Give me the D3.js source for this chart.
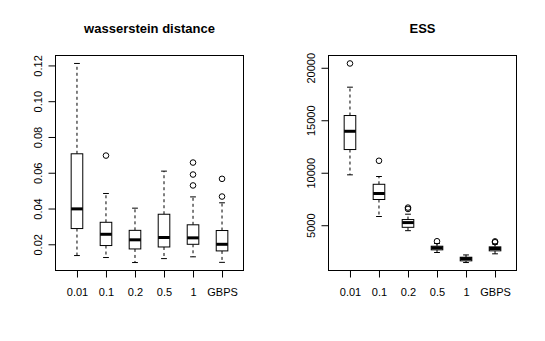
<!DOCTYPE html>
<html>
<head>
<meta charset="utf-8">
<script src="https://cdn.jsdelivr.net/npm/d3@7"></script>
<style>
  body { margin: 0; background: #fff; }
  svg { display: block; font-family: "Liberation Sans", Arial, Helvetica, sans-serif; }
</style>
</head>
<body>
<div id="chart"></div>
<script>
// categories shared by both panels
var categories = ["0.01", "0.1", "0.2", "0.5", "1", "GBPS"];

// wasserstein distance: whisker ends, quartiles, medians, outliers
var wdLow  = [0.0137, 0.0126, 0.0098, 0.0120, 0.0130, 0.0099];
var wdQ1   = [0.0288, 0.0193, 0.0174, 0.0185, 0.0200, 0.0163];
var wdMed  = [0.0398, 0.0256, 0.0225, 0.0238, 0.0236, 0.0200];
var wdQ3   = [0.0706, 0.0323, 0.0278, 0.0368, 0.0309, 0.0277];
var wdHigh = [0.1211, 0.0484, 0.0402, 0.0609, 0.0465, 0.0432];
var wdOut  = [[], [0.0696], [], [], [0.0657, 0.0590, 0.0529], [0.0566, 0.0467]];
var wdTicks = [0.02, 0.04, 0.06, 0.08, 0.10, 0.12];

// ESS
var essLow  = [9800, 5830, 4480, 2400, 1445, 2275];
var essQ1   = [12210, 7450, 4800, 2655, 1607, 2560];
var essMed  = [13950, 8020, 5250, 2846, 1820, 2780];
var essQ3   = [15450, 8900, 5540, 3000, 1950, 2940];
var essHigh = [18150, 9640, 6050, 3256, 2170, 3200];
var essOut  = [[20410], [11140], [6550, 6680], [3475], [], [3380, 3460]];
var essTicks = [5000, 10000, 15000, 20000];

var width = 545, height = 341;

var svg = d3.select("#chart")
    .append("svg")
    .attr("width", width)
    .attr("height", height);

svg.append("rect").attr("width", width).attr("height", height).attr("fill", "#fff");

function drawPanel(left, title, low, q1, med, q3, high, outs, ticks, fmt) {
    var top = 55.5, w = 188, h = 215;
    var g = svg.append("g").attr("transform", "translate(" + left + "," + top + ")");

    // y domain like R: data range padded by 4%
    var all = low.concat(high, d3.merge(outs));
    var lo = d3.min(all), hi = d3.max(all), pad = (hi - lo) * 0.04;
    var y = d3.scaleLinear().domain([lo - pad, hi + pad]).range([h, 0]);
    var x = d3.scaleLinear().domain([0.26, 6.74]).range([0, w]);
    var boxW = x(1.4) - x(1);
    var capW = boxW / 2;

    var rows = categories.map(function (c, i) {
        return { i: i + 1, low: low[i], q1: q1[i], med: med[i], q3: q3[i], high: high[i], out: outs[i] };
    });

    var box = g.selectAll("g.box")
        .data(rows)
        .enter()
        .append("g")
        .attr("class", "box");

    // dashed whiskers
    box.append("line")
        .attr("x1", function (d) { return x(d.i); })
        .attr("x2", function (d) { return x(d.i); })
        .attr("y1", function (d) { return y(d.q3); })
        .attr("y2", function (d) { return y(d.high); })
        .attr("stroke", "#000").attr("stroke-dasharray", "3,3");
    box.append("line")
        .attr("x1", function (d) { return x(d.i); })
        .attr("x2", function (d) { return x(d.i); })
        .attr("y1", function (d) { return y(d.q1); })
        .attr("y2", function (d) { return y(d.low); })
        .attr("stroke", "#000").attr("stroke-dasharray", "3,3");

    // staples
    ["low", "high"].forEach(function (k) {
        box.append("line")
            .attr("x1", function (d) { return x(d.i) - capW / 2; })
            .attr("x2", function (d) { return x(d.i) + capW / 2; })
            .attr("y1", function (d) { return y(d[k]); })
            .attr("y2", function (d) { return y(d[k]); })
            .attr("stroke", "#000");
    });

    // boxes
    box.append("rect")
        .attr("x", function (d) { return x(d.i) - boxW / 2; })
        .attr("y", function (d) { return y(d.q3); })
        .attr("width", boxW)
        .attr("height", function (d) { return y(d.q1) - y(d.q3); })
        .attr("fill", "#fff")
        .attr("stroke", "#000");

    // medians
    box.append("line")
        .attr("x1", function (d) { return x(d.i) - boxW / 2; })
        .attr("x2", function (d) { return x(d.i) + boxW / 2; })
        .attr("y1", function (d) { return y(d.med); })
        .attr("y2", function (d) { return y(d.med); })
        .attr("stroke", "#000").attr("stroke-width", 3);

    // outliers
    box.selectAll("circle")
        .data(function (d) { return d.out.map(function (v) { return { i: d.i, v: v }; }); })
        .enter()
        .append("circle")
        .attr("cx", function (d) { return x(d.i); })
        .attr("cy", function (d) { return y(d.v); })
        .attr("r", 2.8)
        .attr("fill", "none")
        .attr("stroke", "#000");

    // frame
    g.append("rect")
        .attr("width", w).attr("height", h)
        .attr("fill", "none").attr("stroke", "#000");

    // axes
    var xAxis = g.append("g")
        .attr("transform", "translate(0," + h + ")")
        .call(d3.axisBottom(x)
            .tickValues([1, 2, 3, 4, 5, 6])
            .tickFormat(function (d) { return categories[d - 1]; })
            .tickSize(7).tickSizeOuter(0));
    xAxis.select(".domain").remove();
    xAxis.selectAll("text").attr("y", 25).attr("dy", 0)
        .attr("font-size", 11).attr("fill", "#000");

    var yAxis = g.append("g")
        .call(d3.axisLeft(y).tickValues(ticks).tickFormat(fmt).tickSize(7).tickSizeOuter(0));
    yAxis.select(".domain").remove();
    yAxis.selectAll("text")
        .attr("x", 0).attr("dy", 0)
        .attr("text-anchor", "middle")
        .attr("transform", "translate(-14,0) rotate(-90)")
        .attr("font-size", 11).attr("fill", "#000");

    // title
    svg.append("text")
        .attr("x", left + w / 2)
        .attr("y", 33)
        .attr("text-anchor", "middle")
        .attr("font-size", 13)
        .attr("font-weight", "bold")
        .text(title);
}

drawPanel(55.5, "wasserstein distance", wdLow, wdQ1, wdMed, wdQ3, wdHigh, wdOut, wdTicks, d3.format(".2f"));
drawPanel(328.5, "ESS", essLow, essQ1, essMed, essQ3, essHigh, essOut, essTicks, d3.format("d"));
</script>
</body>
</html>
